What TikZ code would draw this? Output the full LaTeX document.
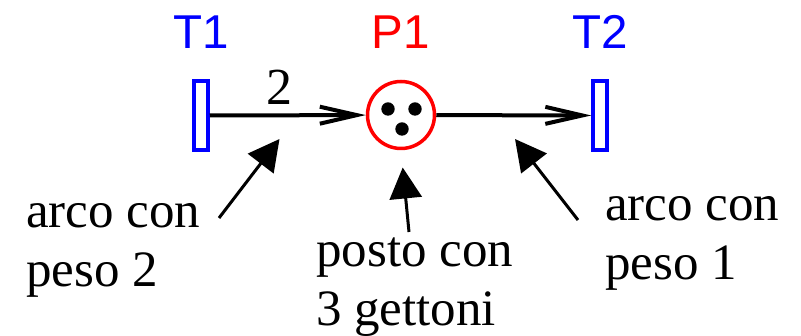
\documentclass[tikz,border=0pt]{standalone}
\usepackage{fontspec}
\setmainfont{Liberation Serif}
\newfontfamily\sanslabel{Liberation Sans}
\usetikzlibrary{arrows.meta, positioning}
\tikzset{trans/.style={draw=blue, line width=3.5pt, rectangle, minimum width=14pt, minimum height=69pt, inner sep=0pt}}
\tikzset{place/.style={draw=red, line width=3.5pt, circle, minimum size=67pt, inner sep=0pt}}
\tikzset{netlabel/.style={font=\sanslabel\fontsize{47.5}{57}\selectfont, inner sep=0pt}}
\tikzset{note/.style={font=\fontsize{51}{59}\selectfont, align=left, inner sep=0pt, anchor=base west}}
\tikzset{arcline/.style={line width=4pt, -{Straight Barb[length=37pt,width=17pt]}}}
\tikzset{pointer/.style={line width=3pt, -{Triangle[length=31pt,width=32pt]}}}

\begin{document}
\begin{tikzpicture}[x=1pt, y=-1pt]
\useasboundingbox (0,0) rectangle (801,336);
% the net
\node[trans] at (201,115.5)(T1) {};
\node[place] at (401,115)(P1) {};
\node[trans] at (600,115.5)(T2) {};
\node[netlabel, text=blue, above=31pt of T1](T1name) {T1};
\node[netlabel, text=red, above=31.5pt of P1](P1name) {P1};
\node[netlabel, text=blue, above=31pt of T2](T2name) {T2};
\foreach \dx/\dy in {-13/-6, 14/-6, 1/14}
  \fill ([shift={(\dx,\dy)}]P1.center) circle (6.7);
\draw[arcline] (T1) -- (P1);
\draw[arcline] (P1) -- (T2);
\node[font=\fontsize{52}{60}\selectfont, inner sep=0pt, anchor=base] at (279,105)(w) {2};
% notes (anchored at the baseline of the last line)
\node[note] at (26,287)(n1) {arco con\\peso 2};
\node[note] at (316,326)(n2) {posto con\\3 gettoni};
\node[note] at (605,280)(n3) {arco con\\peso 1};
\coordinate (t1) at (279.5,139);
\coordinate (t2) at (402.7,167.5);
\coordinate (t3) at (515,139);
\draw[pointer] (219,218) -- (t1);
\draw[pointer] (409,232) -- (t2);
\draw[pointer] (578,220) -- (t3);
\end{tikzpicture}
\end{document}
